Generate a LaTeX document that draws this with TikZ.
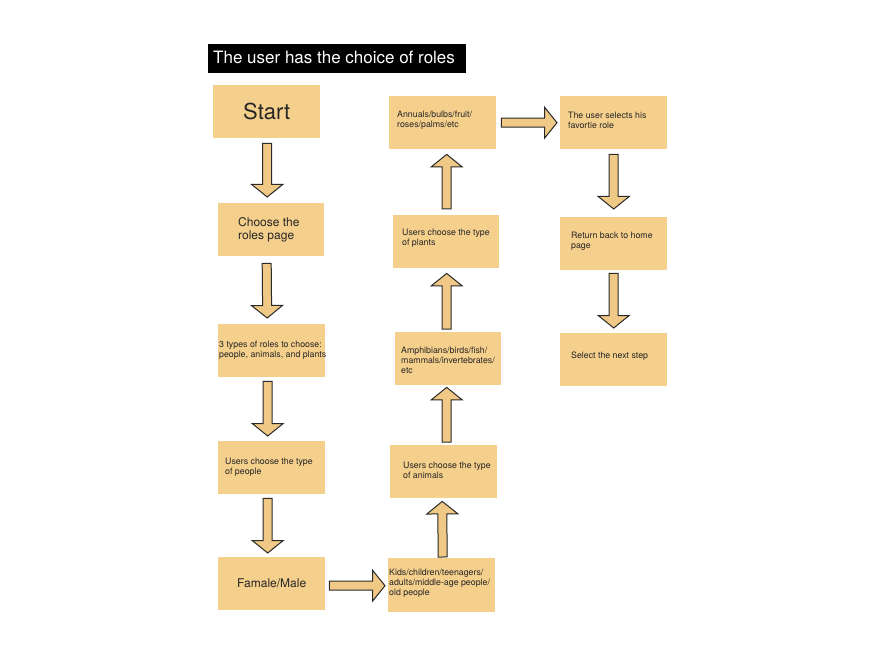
\documentclass[tikz,border=0pt]{standalone}
\usepackage{fontspec}
\setmainfont{TeX Gyre Heros}
\usetikzlibrary{calc}
\definecolor{boxfill}{HTML}{F5CF8C}
\definecolor{arrfill}{HTML}{EFC985}
\definecolor{arrline}{HTML}{2A2A2A}
\newcommand{\blockarr}[2]{%
  \coordinate (bA) at #1;
  \coordinate (bB) at #2;
  \coordinate (bH) at ($(bB)!12.5pt!(bA)$);
  \draw[arrowbody] ($(bA)!4.5pt!90:(bB)$) -- ($(bH)!4.5pt!-90:(bA)$) -- ($(bH)!15.5pt!-90:(bA)$) -- (bB) -- ($(bH)!15.5pt!90:(bA)$) -- ($(bH)!4.5pt!90:(bA)$) -- ($(bA)!4.5pt!-90:(bB)$) -- cycle;
}
\begin{document}
\begin{tikzpicture}[x=1pt,y=-1pt,
  box/.style={fill=boxfill, draw=none, anchor=north west, minimum width=107pt, minimum height=53pt, inner sep=0pt},
  small/.style={anchor=base west, inner sep=0pt, align=left, text=black!85, font=\fontsize{8.8}{10}\selectfont},
  mid/.style={anchor=base west, inner sep=0pt, align=left, text=black!85, font=\fontsize{12}{13.5}\selectfont},
  arrowbody/.style={fill=arrfill, draw=arrline, line width=1pt, line join=miter}]
\useasboundingbox[fill=white] (0,0) rectangle (882,660);
% title
\node[fill=black, anchor=north west, minimum width=258pt, minimum height=29pt, inner sep=0pt] (titlebox) at (208,44) {};
\node[anchor=base west, inner sep=0pt, text=white, font=\fontsize{17}{19}\selectfont] (title) at (213,64) {The user has the choice of roles};
% boxes
\node[box, font=\fontsize{22}{24}\selectfont, text=black!85] (start) at (213,85) {Start};
\node[box, minimum width=106pt] (choose) at (218,203) {};
\node[box] (types) at (218,324) {};
\node[box] (people) at (218,441) {};
\node[box, font=\fontsize{12}{14}\selectfont, text=black!85] (famale) at (218,557) {Famale/Male};
\node[box, minimum height=54pt] (kids) at (388,558) {};
\node[box] (animals) at (390,445) {};
\node[box, minimum width=106pt] (amph) at (395,332) {};
\node[box, minimum width=106pt] (plants) at (393,215) {};
\node[box] (annuals) at (389,96) {};
\node[box] (selects) at (560,96) {};
\node[box] (return) at (560,217) {};
\node[box] (select) at (560,333) {};
% texts (anchor at baseline of last line)
\node[mid] (tchoose) at (238,240) {Choose the\\roles page};
\node[small] (ttypes) at (219,357) {3 types of roles to choose:\\people, animals, and plants};
\node[small] (tpeople) at (225,474) {Users choose the type\\of people};
\node[small] (tkids) at (389,595) {Kids/children/teenagers/\\adults/middle-age people/\\old people};
\node[small] (tanimals) at (403,478) {Users choose the type\\of animals};
\node[small] (tamph) at (401,373) {Amphibians/birds/fish/\\mammals/invertebrates/\\etc};
\node[small] (tplants) at (402,245) {Users choose the type\\of plants};
\node[small] (tannuals) at (397,128) {Annuals/bulbs/fruit/\\roses/palms/etc};
\node[small] (tselects) at (568,129) {The user selects his\\favortie role};
\node[small] (treturn) at (571,248) {Return back to home\\page};
\node[small] (tselect) at (571,358) {Select the next step};
% arrows
\blockarr{($(start.south)+(0.5,5)$)}{($(choose.north)+(-4,-6)$)}
\blockarr{($(choose.south)+(-4.5,7)$)}{($(types.north)+(-4.5,-6)$)}
\blockarr{($(types.south)+(-4,4)$)}{($(people.north)+(-4,-5)$)}
\blockarr{($(people.south)+(-4,4)$)}{($(famale.north)+(-4,-4)$)}
\blockarr{($(famale.east)+(4,2)$)}{($(kids.west)+(-3,0.5)$)}
\blockarr{($(kids.north)+(1,-1)$)}{($(animals.south)+(-1.5,3)$)}
\blockarr{($(animals.north)+(3,-3)$)}{($(amph.south)+(-1.5,2)$)}
\blockarr{($(amph.north)+(-1.5,-3)$)}{($(plants.south)+(0.5,5)$)}
\blockarr{($(plants.north)+(0.5,-6)$)}{($(annuals.south)+(4,5)$)}
\blockarr{($(annuals.east)+(5,0)$)}{($(selects.west)+(-3,0)$)}
\blockarr{($(selects.south)+(0,5)$)}{($(return.north)+(0,-8)$)}
\blockarr{($(return.south)+(0,3)$)}{($(select.north)+(0,-5)$)}
\end{tikzpicture}
\end{document}
